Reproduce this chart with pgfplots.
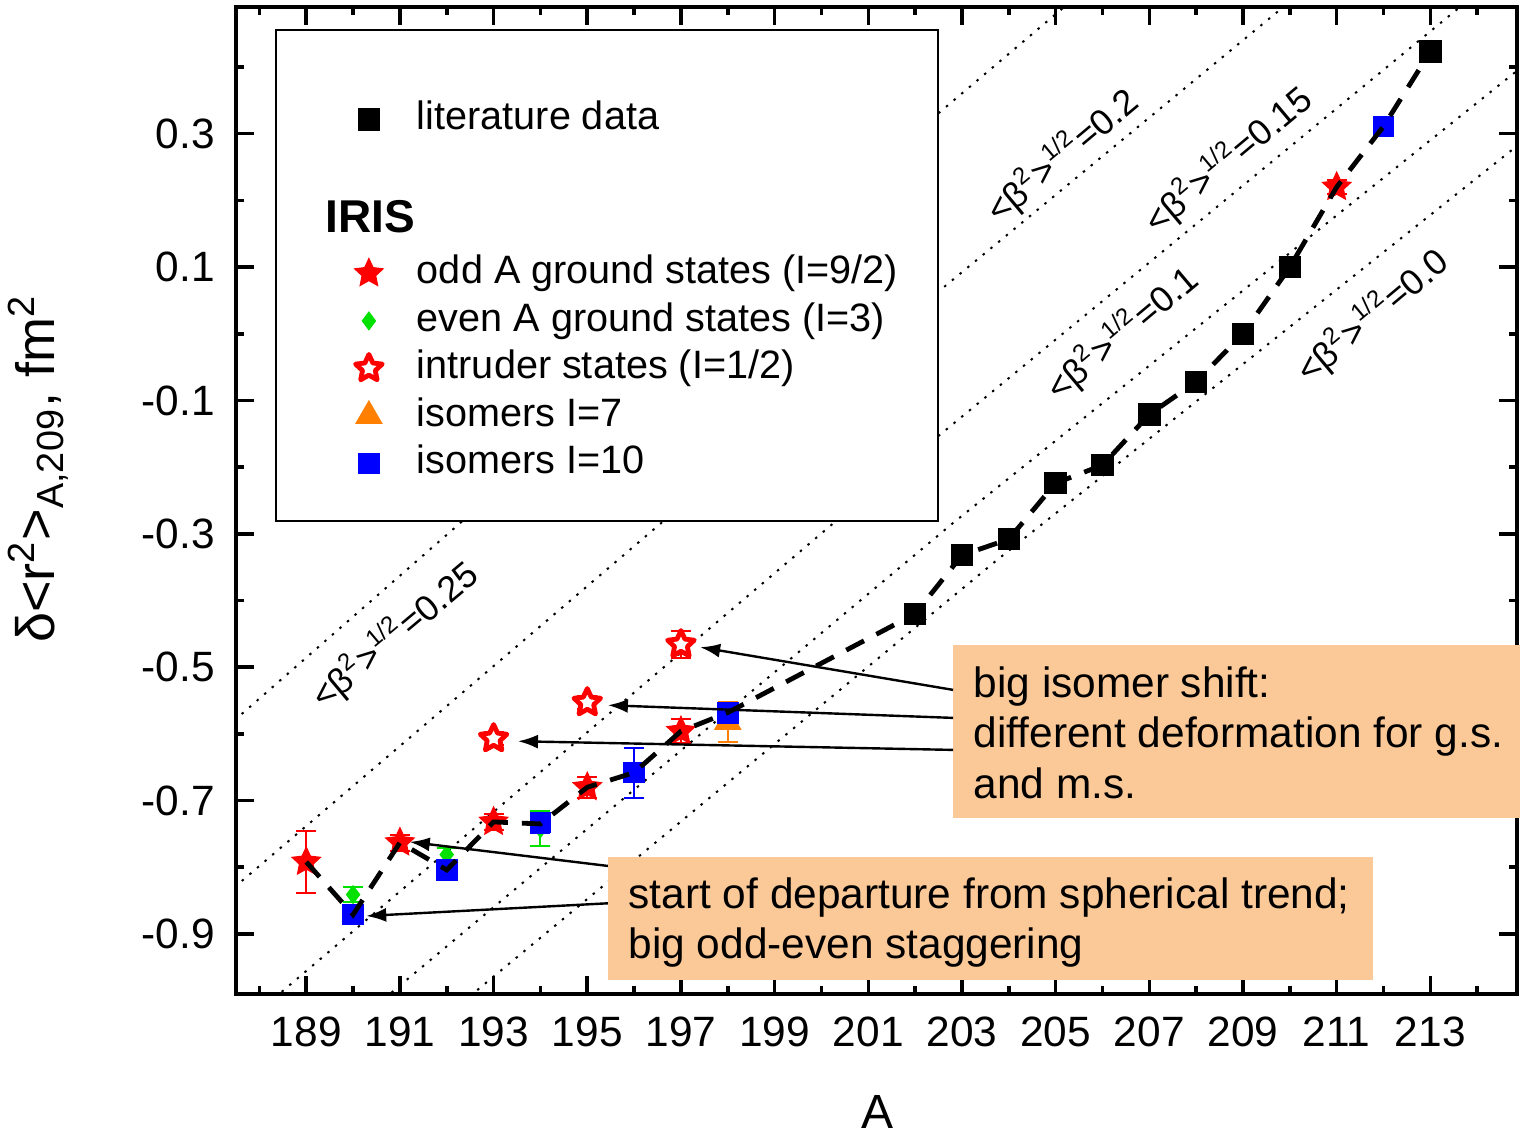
\documentclass[border=0pt]{standalone}
\usepackage{fontspec}
\setmainfont{Liberation Sans}
\usepackage{pgfplots}
\pgfplotsset{compat=1.18}
\usetikzlibrary{arrows.meta}
\definecolor{peach}{RGB}{251,201,152}
\definecolor{mygreen}{RGB}{0,225,0}
\definecolor{myorange}{RGB}{255,128,0}

\pgfdeclareplotmark{fstar}{%
  \pgfpathmoveto{\pgfpointpolar{90}{\pgfplotmarksize}}%
  \pgfpathlineto{\pgfpointpolar{126}{0.48*\pgfplotmarksize}}%
  \pgfpathlineto{\pgfpointpolar{162}{\pgfplotmarksize}}%
  \pgfpathlineto{\pgfpointpolar{198}{0.48*\pgfplotmarksize}}%
  \pgfpathlineto{\pgfpointpolar{234}{\pgfplotmarksize}}%
  \pgfpathlineto{\pgfpointpolar{270}{0.48*\pgfplotmarksize}}%
  \pgfpathlineto{\pgfpointpolar{306}{\pgfplotmarksize}}%
  \pgfpathlineto{\pgfpointpolar{342}{0.48*\pgfplotmarksize}}%
  \pgfpathlineto{\pgfpointpolar{18}{\pgfplotmarksize}}%
  \pgfpathlineto{\pgfpointpolar{54}{0.48*\pgfplotmarksize}}%
  \pgfpathclose
  \pgfusepathqfillstroke
}

\newcommand{\bl}[1]{\textless β\textsuperscript{2}\textgreater\textsuperscript{1/2}=#1}

\tikzset{
  lrow/.style={text height=8.5pt, text depth=3.375pt},
}
\pgfplotsset{
  lg/.style={legend image code/.code={\draw[##1] plot coordinates {(0pt,0pt)};}},
  dotline/.style={black, line width=0.5pt, dash pattern=on 0.6pt off 1.9pt, forget plot},
}

\begin{document}
\begin{tikzpicture}
\begin{axis}[
  at={(0,0)}, anchor=south west,
  scale only axis, width=320.25pt, height=246.75pt,
  xmin=187.5, xmax=214.85, ymin=-0.99, ymax=0.49,
  clip mode=individual,
  axis line style={line width=1.1pt},
  tick align=inside,
  major tick length=4.4pt, minor tick length=2.1pt,
  every tick/.style={black, line width=0.9pt},
  xtick={189,191,...,213},
  minor xtick={188,190,...,214},
  ytick={-0.9,-0.7,-0.5,-0.3,-0.1,0.1,0.3},
  minor ytick={-0.8,-0.6,-0.4,-0.2,0,0.2,0.4},
  xtick pos=both, ytick pos=both,
  /pgf/number format/assume math mode=true,
  yticklabel={\pgfmathprintnumber[fixed,precision=1]{\tick}},
  xticklabel={\pgfmathprintnumber[fixed,precision=0]{\tick}},
  xticklabel style={font=\fontsize{10.6}{12}\selectfont, yshift=-2.3pt},
  yticklabel style={font=\fontsize{10.6}{12}\selectfont, xshift=-1.75pt},
  xlabel={A},
  ylabel={δ\textless r\textsuperscript{2}\textgreater\textsubscript{A,209}, fm\textsuperscript{2}},
  every axis x label/.style={at={(axis description cs:0.501,-0.1358)}, anchor=base, font=\fontsize{12}{14}\selectfont},
  every axis y label/.style={at={(axis description cs:-0.1413,0.532)}, anchor=base, rotate=90, font=\fontsize{13.5}{15}\selectfont},
  legend style={at={(axis cs:190.037,0.357)}, anchor=north west, draw=none, fill=none,
    inner sep=0pt, outer sep=0pt, row sep=0pt, column sep=8.5pt,
    nodes={inner sep=0pt, outer sep=0pt},
    font=\fontsize{9.9}{11}\selectfont},
  legend cell align=left,
]

% constant-deformation lines
\addplot[dotline] coordinates {(191.5,-1.051) (203.70,-0.342) (215.5,0.318)};
\addplot[dotline] coordinates {(190,-1.036) (202.805,-0.284) (215.5,0.431)};
\addplot[dotline] coordinates {(187.5,-1.045) (200.927,-0.244) (215,0.569)};
\addplot[dotline] coordinates {(187.3,-0.840) (198.577,-0.164) (212,0.614)};
\addplot[dotline] coordinates {(187.3,-0.590) (196.241,-0.041) (207,0.598)};

\node[rotate=40, inner sep=0pt, font=\fontsize{9}{10}\selectfont] at (axis cs:190.89,-0.452) {\bl{0.25}};
\node[rotate=40, inner sep=0pt, font=\fontsize{9}{10}\selectfont] at (axis cs:205.14,0.267) {\bl{0.2}};
\node[rotate=40, inner sep=0pt, font=\fontsize{9}{10}\selectfont] at (axis cs:208.68,0.261) {\bl{0.15}};
\node[rotate=40, inner sep=0pt, font=\fontsize{9}{10}\selectfont] at (axis cs:206.42,0.001) {\bl{0.1}};
\node[rotate=40, inner sep=0pt, font=\fontsize{9}{10}\selectfont] at (axis cs:211.76,0.027) {\bl{0.0}};

% legend frame
\draw[line width=0.45pt, fill=white] (axis cs:188.353,0.456) rectangle (axis cs:202.486,-0.2806);

% annotation boxes
\fill[peach] (axis cs:202.81,-0.467) rectangle (axis cs:214.92,-0.726);
\fill[peach] (axis cs:195.44,-0.785) rectangle (axis cs:211.77,-0.969);

% literature data
\addplot[only marks, mark=square*, mark size=2.6pt, black, lg] table {
A v
202 -0.420
203 -0.332
204 -0.308
205 -0.224
206 -0.197
207 -0.121
208 -0.072
209 0.000
210 0.100
213 0.423
};
\addlegendentry[lrow]{literature data}

\addlegendimage{empty legend}
\addlegendentry[text height=13.875pt, text depth=0pt]{}

\addlegendimage{empty legend}
\addlegendentry[text height=8.5pt, text depth=4.25pt]{\makebox[0pt][l]{\hspace*{-23.25pt}\fontsize{11.5}{12}\selectfont\bfseries IRIS}}

% odd A ground states
\addplot[only marks, mark=fstar, mark size=3.7pt, red, mark options={fill=red, draw=red, line width=0.3pt}, lg,
  error bars/.cd, y dir=both, y explicit,
  error bar style={red, line width=0.5pt},
  error mark options={rotate=90, red, mark size=2.5pt, line width=0.5pt}]
  table[x=A, y=v, y error=e] {
A v e
189 -0.792 0.046
191 -0.763 0.012
193 -0.732 0.012
195 -0.680 0.016
197 -0.596 0.018
211 0.220 0.010
};
\addlegendentry[lrow]{odd A ground states (I=9/2)}

% even A ground states
\addplot[only marks, mark=diamond*, mark size=2.1pt, mygreen, mark options={fill=mygreen, draw=mygreen}, lg,
  error bars/.cd, y dir=both, y explicit,
  error bar style={mygreen, line width=0.5pt},
  error mark options={rotate=90, mygreen, mark size=2.5pt, line width=0.5pt}]
  table[x=A, y=v, y error=e] {
A v e
190 -0.841 0.011
192 -0.781 0.010
194 -0.742 0.026
};
\addlegendentry[lrow]{even A ground states (I=3)}

% intruder states
\addplot[only marks, mark=fstar, mark size=3.5pt, red, mark options={fill=white, draw=red, line width=1.2pt, line join=round}, lg,
  error bars/.cd, y dir=both, y explicit,
  error bar style={red, line width=0.5pt},
  error mark options={rotate=90, red, mark size=2.5pt, line width=0.5pt}]
  table[x=A, y=v, y error=e] {
A v e
193 -0.607 0.010
195 -0.553 0.010
197 -0.466 0.020
};
\addlegendentry[lrow]{intruder states (I=1/2)}

% isomers I=7
\addplot[only marks, mark=triangle*, mark size=3.6pt, myorange, mark options={fill=myorange, draw=myorange}, lg,
  error bars/.cd, y dir=both, y explicit,
  error bar style={myorange, line width=0.5pt},
  error mark options={rotate=90, myorange, mark size=2.5pt, line width=0.5pt}]
  table[x=A, y=v, y error=e] {
A v e
198 -0.582 0.030
};
\addlegendentry[lrow]{isomers I=7}

% isomers I=10
\addplot[only marks, mark=square*, mark size=2.5pt, blue, mark options={fill=blue, draw=blue}, lg,
  error bars/.cd, y dir=both, y explicit,
  error bar style={blue, line width=0.5pt},
  error mark options={rotate=90, blue, mark size=2.5pt, line width=0.5pt}]
  table[x=A, y=v, y error=e] {
A v e
190 -0.871 0.010
192 -0.804 0.010
194 -0.733 0.015
196 -0.658 0.0375
198 -0.569 0.010
212 0.311 0.010
};
\addlegendentry[lrow]{isomers I=10}

% trend line
\addplot[black, line width=1.2pt, dash pattern=on 5pt off 3.5pt, forget plot] table {
A v
189 -0.792
190 -0.871
191 -0.763
192 -0.804
193 -0.732
194 -0.735
195 -0.680
196 -0.658
197 -0.596
198 -0.568
202 -0.420
203 -0.332
204 -0.308
205 -0.224
206 -0.197
207 -0.121
208 -0.072
209 0.000
210 0.100
211 0.220
212 0.311
213 0.423
};

% annotation texts
\node[anchor=base west, inner sep=0pt, font=\fontsize{10.6}{12}\selectfont] at (axis cs:203.233,-0.5447) {big isomer shift:};
\node[anchor=base west, inner sep=0pt, font=\fontsize{10.6}{12}\selectfont] at (axis cs:203.233,-0.6197) {different deformation for g.s.};
\node[anchor=base west, inner sep=0pt, font=\fontsize{10.6}{12}\selectfont] at (axis cs:203.233,-0.6963) {and m.s.};
\node[anchor=base west, inner sep=0pt, font=\fontsize{10.6}{12}\selectfont] at (axis cs:195.867,-0.8613) {start of departure from spherical trend;};
\node[anchor=base west, inner sep=0pt, font=\fontsize{10.6}{12}\selectfont] at (axis cs:195.867,-0.9363) {big odd-even staggering};

% arrows
\draw[-{Latex[length=5pt,width=3.5pt]}, line width=0.6pt] (axis cs:202.81,-0.534) -- (axis cs:197.41,-0.470);
\draw[-{Latex[length=5pt,width=3.5pt]}, line width=0.6pt] (axis cs:202.81,-0.576) -- (axis cs:195.44,-0.557);
\draw[-{Latex[length=5pt,width=3.5pt]}, line width=0.6pt] (axis cs:202.81,-0.624) -- (axis cs:193.52,-0.611);
\draw[-{Latex[length=5pt,width=3.5pt]}, line width=0.6pt] (axis cs:195.44,-0.798) -- (axis cs:191.21,-0.762);
\draw[-{Latex[length=5pt,width=3.5pt]}, line width=0.6pt] (axis cs:195.44,-0.854) -- (axis cs:190.28,-0.873);

\end{axis}
\pgfresetboundingbox
\path (-59pt,-34.75pt) rectangle (321pt,248.5pt);
\end{tikzpicture}
\end{document}
